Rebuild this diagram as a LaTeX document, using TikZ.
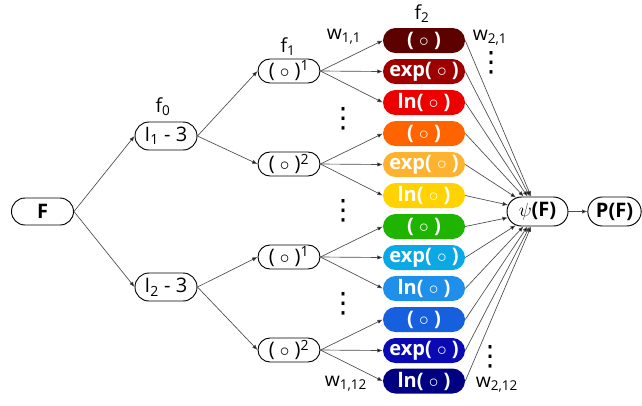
\documentclass[tikz,border=0pt]{standalone}
\usepackage{fontspec}
\setmainfont{Open Sans}
\newfontfamily\dotfont{DejaVu Sans}
\usetikzlibrary{arrows.meta, shapes.misc, positioning}
\definecolor{box_c1}{HTML}{5C0000}
\definecolor{box_c2}{HTML}{9E0000}
\definecolor{box_c3}{HTML}{EC0000}
\definecolor{box_c4}{HTML}{FF6400}
\definecolor{box_c5}{HTML}{FDB32F}
\definecolor{box_c6}{HTML}{FFD200}
\definecolor{box_c7}{HTML}{1EB400}
\definecolor{box_c8}{HTML}{0AA8E4}
\definecolor{box_c9}{HTML}{1E8FEA}
\definecolor{box_c10}{HTML}{1660E0}
\definecolor{box_c11}{HTML}{0A0AB4}
\definecolor{box_c12}{HTML}{000080}
\tikzset{
  node_font/.style = {font=\fontsize{15}{17}\selectfont},
  label_font/.style = {font=\fontsize{14.5}{17}\selectfont},
  white_node/.style = {node_font, rounded rectangle, draw, line width=0.7pt,
    inner sep=0pt, minimum width=46.5pt, minimum height=20pt},
  fn_box/.style = {node_font, rounded rectangle, fill=#1, text=white,
    inner sep=0pt, minimum width=61.5pt, minimum height=18.75pt},
  flow/.style = {draw=black!70, line width=0.5pt,
    -{Latex[length=4pt, width=3.2pt, fill=black]}},
  dots/.style = {font=\dotfont\fontsize{21}{21}\selectfont, inner sep=0pt}
}

\begin{document}
\begin{tikzpicture}[x=0.75pt, y=-0.75pt]
    \useasboundingbox (0,0) rectangle (642,405);

    % Input and first layer
    \node[white_node, minimum height=20.25pt] (f) at (42.5,211.5) {\textbf{F}};
    \node[white_node, minimum height=21pt] (g_1) at (166,136) {I\textsubscript{1} - 3};
    \node[white_node, minimum height=21pt] (g_2) at (166,287) {I\textsubscript{2} - 3};

    % Powers
    \node[white_node, minimum height=18pt] (p_1) at (289,71) {( $\circ$ )\textsuperscript{1}};
    \node[white_node, minimum height=18pt] (p_2) at (289,164) {( $\circ$ )\textsuperscript{2}};
    \node[white_node, minimum height=18pt] (p_3) at (289,257) {( $\circ$ )\textsuperscript{1}};
    \node[white_node, minimum height=18pt] (p_4) at (289,350) {( $\circ$ )\textsuperscript{2}};

    % Function boxes
    \node[fn_box=box_c1] (b_1) at (424,40.5) {\textbf{( $\circ$ )}};
    \node[fn_box=box_c2] (b_2) at (424,71.5) {\textbf{exp( $\circ$ )}};
    \node[fn_box=box_c3] (b_3) at (424,102.5) {\textbf{ln( $\circ$ )}};
    \node[fn_box=box_c4] (b_4) at (424,133.5) {\textbf{( $\circ$ )}};
    \node[fn_box=box_c5] (b_5) at (424,164.5) {\textbf{exp( $\circ$ )}};
    \node[fn_box=box_c6] (b_6) at (424,195.5) {\textbf{ln( $\circ$ )}};
    \node[fn_box=box_c7] (b_7) at (424,226.5) {\textbf{( $\circ$ )}};
    \node[fn_box=box_c8] (b_8) at (424,257.5) {\textbf{exp( $\circ$ )}};
    \node[fn_box=box_c9] (b_9) at (424,288.5) {\textbf{ln( $\circ$ )}};
    \node[fn_box=box_c10] (b_10) at (424,319.5) {\textbf{( $\circ$ )}};
    \node[fn_box=box_c11] (b_11) at (424,350.5) {\textbf{exp( $\circ$ )}};
    \node[fn_box=box_c12] (b_12) at (424,381) {\textbf{ln( $\circ$ )}};

    % Output
    \node[white_node, minimum width=45.75pt, minimum height=21.75pt] (psi) at (537.5,211.5) {$\psi$\textbf{(F)}};
    \node[white_node, minimum width=40pt, minimum height=21.75pt] (pf) at (614.5,211.5) {\textbf{P(F)}};

    % Labels
    \node[label_font] (l_f0) at (163,107) {f\textsubscript{0}};
    \node[label_font] (l_f1) at (288,47) {f\textsubscript{1}};
    \node[label_font] (l_f2) at (422,14) {f\textsubscript{2}};
    \node[label_font] (l_w11) at (344,37) {w\textsubscript{1,1}};
    \node[label_font] (l_w21) at (490,38) {w\textsubscript{2,1}};
    \node[label_font] (l_w112) at (346,384) {w\textsubscript{1,12}};
    \node[label_font] (l_w212) at (497,385) {w\textsubscript{2,12}};

    \node[dots] (d_1) at (343,119) {⋮};
    \node[dots] (d_2) at (343,211) {⋮};
    \node[dots] (d_3) at (343,304) {⋮};
    \node[dots] (d_4) at (491,63) {⋮};
    \node[dots] (d_5) at (490,357) {⋮};

    % Arrows and lines
    \draw[flow] (f.east)--(g_1.west);
    \draw[flow] (f.east)--(g_2.west);

    \draw[flow] (g_1.east)--(p_1.west);
    \draw[flow] (g_1.east)--(p_2.west);
    \draw[flow] (g_2.east)--(p_3.west);
    \draw[flow] (g_2.east)--(p_4.west);

    \draw[flow] (p_1.east)--(b_1.west);
    \draw[flow] (p_1.east)--(b_2.west);
    \draw[flow] (p_1.east)--(b_3.west);
    \draw[flow] (p_2.east)--(b_4.west);
    \draw[flow] (p_2.east)--(b_5.west);
    \draw[flow] (p_2.east)--(b_6.west);
    \draw[flow] (p_3.east)--(b_7.west);
    \draw[flow] (p_3.east)--(b_8.west);
    \draw[flow] (p_3.east)--(b_9.west);
    \draw[flow] (p_4.east)--(b_10.west);
    \draw[flow] (p_4.east)--(b_11.west);
    \draw[flow] (p_4.east)--(b_12.west);

    \draw[flow] (b_1.east)--(psi);
    \draw[flow] (b_2.east)--(psi);
    \draw[flow] (b_3.east)--(psi);
    \draw[flow] (b_4.east)--(psi);
    \draw[flow] (b_5.east)--(psi);
    \draw[flow] (b_6.east)--(psi);
    \draw[flow] (b_7.east)--(psi);
    \draw[flow] (b_8.east)--(psi);
    \draw[flow] (b_9.east)--(psi);
    \draw[flow] (b_10.east)--(psi);
    \draw[flow] (b_11.east)--(psi);
    \draw[flow] (b_12.east)--(psi);

    \draw[flow] (psi.east)--(pf.west);
\end{tikzpicture}
\end{document}
